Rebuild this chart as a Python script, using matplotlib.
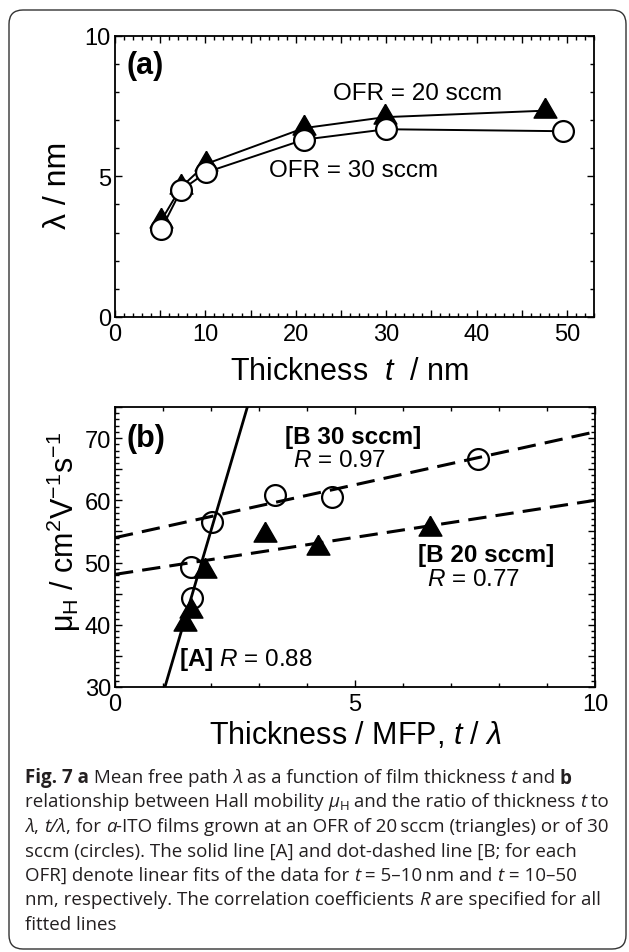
import numpy as np
import matplotlib
matplotlib.use("Agg")
import matplotlib.pyplot as plt
from matplotlib.ticker import MultipleLocator, FuncFormatter
from matplotlib.patches import FancyBboxPatch
from matplotlib.transforms import IdentityTransform

plt.rcParams['font.family'] = ['Liberation Sans', 'DejaVu Sans']
plt.rcParams['mathtext.fontset'] = 'custom'
plt.rcParams['mathtext.rm'] = 'Liberation Sans'
plt.rcParams['mathtext.it'] = 'Liberation Sans:italic'
plt.rcParams['mathtext.bf'] = 'Liberation Sans:bold'

# (a) mean free path vs thickness
t_20 = [5.1, 7.3, 10.1, 20.9, 29.9, 47.6]
lam_20 = [3.42, 4.61, 5.44, 6.71, 7.10, 7.33]
t_30 = [5.1, 7.3, 10.1, 20.9, 30.0, 49.6]
lam_30 = [3.11, 4.50, 5.14, 6.30, 6.67, 6.60]

# (b) Hall mobility vs t / lambda
ratio_20 = [1.46, 1.58, 1.88, 3.12, 4.23, 6.57]
mu_20 = [40.1, 42.2, 48.6, 54.5, 52.4, 55.4]
ratio_30 = [1.60, 1.58, 2.02, 3.33, 4.52, 7.56]
mu_30 = [44.3, 49.3, 56.5, 60.8, 60.6, 66.7]

# linear fits (slope, intercept)
fit_A = (26.2, 2.75)
fit_B30 = (1.70, 54.0)
fit_B20 = (1.19, 48.1)

W, H = 629, 953
fig = plt.figure(figsize=(W / 100, H / 100), dpi=100)

# triangle centred on its centroid
tri = [(0, 1), (-0.866, -0.5), (0.866, -0.5), (0, 1)]

tick_fs = 17
lab_fs = 22
note_fs = 17.5


def style_axes(ax):
    for s in ax.spines.values():
        s.set_linewidth(1.3)
    ax.tick_params(which='both', direction='in', top=True, right=True,
                   labelsize=tick_fs, width=1.0)
    ax.tick_params(which='major', length=5)
    ax.tick_params(which='minor', length=2.8)
    ax.tick_params(axis='x', which='major', pad=4)
    ax.tick_params(axis='y', which='major', pad=3)


# ---------- panel (a)
ax1 = fig.add_axes([115 / W, 1 - 318 / H, 479 / W, 281.5 / H])
ax1.plot(t_20, lam_20, color='black', lw=1.4, marker=tri, ms=19,
         mfc='black', mec='black', zorder=3)
ax1.plot(t_30, lam_30, color='black', lw=1.4, marker='o', ms=15,
         mfc='white', mec='black', mew=1.6, zorder=4)
ax1.set_xlim(0, 53)
ax1.set_ylim(0, 10)
ax1.xaxis.set_major_locator(MultipleLocator(5))
ax1.xaxis.set_minor_locator(MultipleLocator(1))
ax1.xaxis.set_major_formatter(FuncFormatter(lambda v, p: f"{v:.0f}" if round(v) % 10 == 0 else ""))
ax1.yaxis.set_major_locator(MultipleLocator(5))
ax1.yaxis.set_minor_locator(MultipleLocator(1))
style_axes(ax1)
ax1.set_xlabel("Thickness  $t$  / nm", fontsize=lab_fs)
ax1.xaxis.set_label_coords(0.49, -0.192)
ax1.xaxis.label.set_va('center')
ax1.set_ylabel("λ / nm", fontsize=lab_fs + 1)
ax1.yaxis.set_label_coords(-0.119, 0.472)
ax1.yaxis.label.set_va('center')
ax1.text(3.3, 8.95, "(a)", fontsize=22, fontweight='bold', ha='center', va='center')
ax1.text(33.5, 7.96, "OFR = 20 sccm", fontsize=note_fs, ha='center', va='center')
ax1.text(26.4, 5.23, "OFR = 30 sccm", fontsize=note_fs, ha='center', va='center')

# ---------- panel (b)
ax2 = fig.add_axes([115 / W, 1 - 688 / H, 480 / W, 280 / H])
xs = np.array([0, 10])
ax2.plot(xs, fit_A[0] * xs + fit_A[1], color='black', lw=2.0, zorder=2)
ax2.plot(xs, fit_B30[0] * xs + fit_B30[1], color='black', lw=2.2, dashes=(6, 3), zorder=2)
ax2.plot(xs, fit_B20[0] * xs + fit_B20[1], color='black', lw=2.2, dashes=(6, 3), zorder=2)
ax2.plot(ratio_20, mu_20, ls='none', marker=tri, ms=19, mfc='black', mec='black', zorder=3)
ax2.plot(ratio_30, mu_30, ls='none', marker='o', ms=15, mfc='none', mec='black', mew=1.6, zorder=4)
ax2.set_xlim(0, 10)
ax2.set_ylim(30, 75)
ax2.xaxis.set_major_locator(MultipleLocator(5))
ax2.xaxis.set_minor_locator(MultipleLocator(1))
ax2.yaxis.set_major_locator(MultipleLocator(5))
ax2.yaxis.set_minor_locator(MultipleLocator(1))
ax2.yaxis.set_major_formatter(FuncFormatter(lambda v, p: f"{v:.0f}" if round(v) % 10 == 0 else ""))
style_axes(ax2)
ax2.set_xlabel("Thickness / MFP, $t$ / $\\mathit{\\lambda}$", fontsize=lab_fs)
ax2.xaxis.set_label_coords(0.502, -0.168)
ax2.xaxis.label.set_va('center')
ax2.set_ylabel("μ$_\\mathrm{H}$ / cm$^2$V$^{-1}$s$^{-1}$", fontsize=lab_fs)
ax2.yaxis.set_label_coords(-0.106, 0.557)
ax2.yaxis.label.set_va('center')
ax2.text(0.65, 70.0, "(b)", fontsize=22, fontweight='bold', ha='center', va='center')
ax2.text(3.54, 70.3, "[B 30 sccm]", fontsize=note_fs, fontweight='bold', ha='left', va='center')
ax2.text(3.7, 66.5, "$R$ = 0.97", fontsize=note_fs, ha='left', va='center')
ax2.text(6.32, 51.3, "[B 20 sccm]", fontsize=note_fs, fontweight='bold', ha='left', va='center')
ax2.text(6.49, 47.4, "$R$ = 0.77", fontsize=note_fs, ha='left', va='center')
ax2.text(1.34, 34.5, "$\\mathbf{[A]}$ $R$ = 0.88", fontsize=note_fs, ha='left', va='center')

# ---------- frame
frame = FancyBboxPatch((9, 3), 617, 939, boxstyle="round,pad=0,rounding_size=14",
                       transform=IdentityTransform(), fill=False, ec='#333333', lw=1.0)
fig.add_artist(frame)

# ---------- caption
cap_font = ['Open Sans', 'DejaVu Sans']
cap_fs = 13.5
cap_col = '#231f20'
N, B, I, S = 'n', 'b', 'i', 's'
caption = [
    [("Fig. 7 a", B), (" Mean free path ", N), ("λ", I), (" as a function of film thickness ", N),
     ("t", I), (" and ", N), ("b", B)],
    [("relationship between Hall mobility ", N), ("μ", I), ("H", S),
     (" and the ratio of thickness ", N), ("t", I), (" to", N)],
    [("λ", I), (", ", N), ("t/λ", I), (", for ", N), ("a", I),
     ("-ITO films grown at an OFR of 20\u2009sccm (triangles) or of 30", N)],
    [("sccm (circles). The solid line [A] and dot-dashed line [B; for each", N)],
    [("OFR] denote linear fits of the data for ", N), ("t", I), (" = 5–10\u2009nm and ", N),
     ("t", I), (" = 10–50", N)],
    [("nm, respectively. The correlation coefficients ", N), ("R", I),
     (" are specified for all", N)],
    [("fitted lines", N)],
]
line_y = [776, 800.5, 825, 849.5, 874, 898.5, 923]

renderer = fig.canvas.get_renderer()


def seg_props(style):
    p = dict(family=cap_font, fontsize=cap_fs, color=cap_col)
    if style == B:
        p['fontweight'] = 'bold'
    elif style == I:
        p['fontstyle'] = 'italic'
    elif style == S:
        p['fontsize'] = cap_fs * 0.7
    return p


def advance(txt, props):
    a = fig.text(0, 0, txt + "|", **props)
    b = fig.text(0, 0, "|", **props)
    w = a.get_window_extent(renderer).width - b.get_window_extent(renderer).width
    a.remove()
    b.remove()
    return w


for segs, yc in zip(caption, line_y):
    x = 25.0
    for txt, style in segs:
        props = seg_props(style)
        dy = -4 if style == S else 0
        fig.text(x / W, 1 - (yc - dy) / H, txt, va='center_baseline', ha='left', **props)
        x += advance(txt, props)

fig.savefig("out.png", dpi=100)
